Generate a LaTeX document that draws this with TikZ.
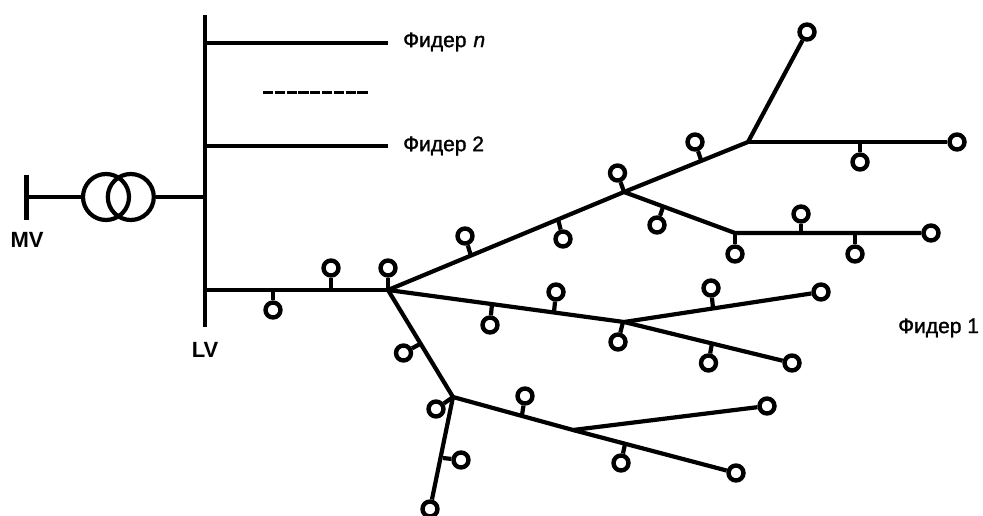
\documentclass[tikz,border=0pt]{standalone}
\usepackage{fontspec}
\setmainfont{Liberation Sans}
\newfontfamily\heavy[FakeBold=1.4]{Liberation Sans}
\newfontfamily\heavyit[FakeBold=1.4,FakeSlant=0.2]{Liberation Sans}
\tikzset{
  wire/.style={line width=4.2pt,line cap=butt,line join=miter},
  load/.style={circle,draw,line width=4.4pt,fill=white,inner sep=0pt,minimum size=15pt},
  winding/.style={circle,draw,line width=4.2pt,inner sep=0pt,minimum size=46pt},
  label/.style={font=\fontsize{21}{24}\selectfont\heavy,inner sep=0pt,anchor=west},
  vlabel/.style={font=\fontsize{22}{24}\selectfont\bfseries,inner sep=0pt},
  feeddash/.style={line width=3pt,dash pattern=on 10.2pt off 1.6pt},
}
\newcommand{\tapped}[4]{% name, load position, tap position
  \coordinate (t#1) at (#3);
  \node[load] (l#1) at (#2) {};
  \draw[wire] (t#1) -- (l#1);
}
\begin{document}
\begin{tikzpicture}[x=1pt,y=-1pt]
\useasboundingbox (0,0) rectangle (983,516);
% coordinates
\coordinate (mvt) at (26.5,175); \coordinate (mvb) at (26.5,220);
\coordinate (mvc) at (26.5,197);
\coordinate (bust) at (205,15); \coordinate (busb) at (205,327);
\coordinate (busn) at (205,43); \coordinate (bus2) at (205,146);
\coordinate (bust1) at (205,197); \coordinate (bus1) at (205,290);
\coordinate (endn) at (388,43); \coordinate (end2) at (388,146);
\coordinate (dasha) at (263,92.5); \coordinate (dashb) at (368,92.5);
\coordinate (J0) at (388,290);
\coordinate (J1) at (624,192);
\coordinate (J2) at (748,142);
\coordinate (J3) at (735,233);
\coordinate (J4) at (624,322);
\coordinate (J5) at (453,397);
\coordinate (J6) at (573,430);
% bars
\draw[wire] (mvt) -- (mvb);
\draw[wire] (bust) -- (busb);
\node[winding] (T1) at (106,197) {};
\node[winding] (T2) at (130.8,197) {};
\draw[wire] (mvc) -- (T1);
\draw[wire] (T2) -- (bust1);
\draw[wire] (busn) -- (endn);
\draw[wire] (bus2) -- (end2);
\draw[feeddash] (dasha) -- (dashb);
\draw[wire] (bus1) -- (J0);
% line-end loads
\node[load] (e1) at (807,32) {};
\node[load] (e2) at (957,142) {};
\node[load] (e3) at (931,233) {};
\node[load] (e4) at (821,292) {};
\node[load] (e5) at (792,363) {};
\node[load] (e6) at (767,406) {};
\node[load] (e7) at (736,473) {};
\node[load] (e8) at (430,509) {};
% branches
\draw[wire] (J0) -- (J1) -- (J2) -- (e1);
\draw[wire] (J2) -- (e2);
\draw[wire] (J1) -- (J3) -- (e3);
\draw[wire] (J0) -- (J4) -- (e4);
\draw[wire] (J4) -- (e5);
\draw[wire] (J0) -- (J5) -- (J6) -- (e7);
\draw[wire] (J6) -- (e6);
\draw[wire] (J5) -- (e8);
% tapped loads
\tapped{a}{273,310}{273,290}{}
\tapped{b}{331,268}{331,290}{}
\tapped{c}{388,268}{388,290}{}
\tapped{d}{465,236}{471,256}{}
\tapped{f}{563,239}{558,219}{}
\tapped{g}{617.5,173}{624,192}{}
\tapped{h}{695,142}{701,160}{}
\tapped{i}{860,162}{860,142}{}
\tapped{j}{657,225}{663,207}{}
\tapped{k}{735,254}{735,233}{}
\tapped{m}{801,214}{801,233}{}
\tapped{n}{855,254}{855,233}{}
\tapped{o}{490,325}{492,304}{}
\tapped{p}{556,292}{554,312}{}
\tapped{q}{618,342}{623,322}{}
\tapped{r}{711,288}{713,308}{}
\tapped{s}{708.5,363}{712,343}{}
\tapped{u}{403.5,353}{420,344}{}
\tapped{v}{436,409}{453,397}{}
\tapped{w}{461,460}{443,458}{}
\tapped{x}{525,396}{522,415}{}
\tapped{y}{621,463}{625,444}{}
% labels
\node[label] (ln) at (403,42) {Фидер {\heavyit n}};
\node[label] (l2) at (403,146) {Фидер 2};
\node[label] (l1) at (898,328) {Фидер 1};
\node[vlabel] (mv) at (27,240) {MV};
\node[vlabel] (lv) at (205,350) {LV};
\end{tikzpicture}
\end{document}
